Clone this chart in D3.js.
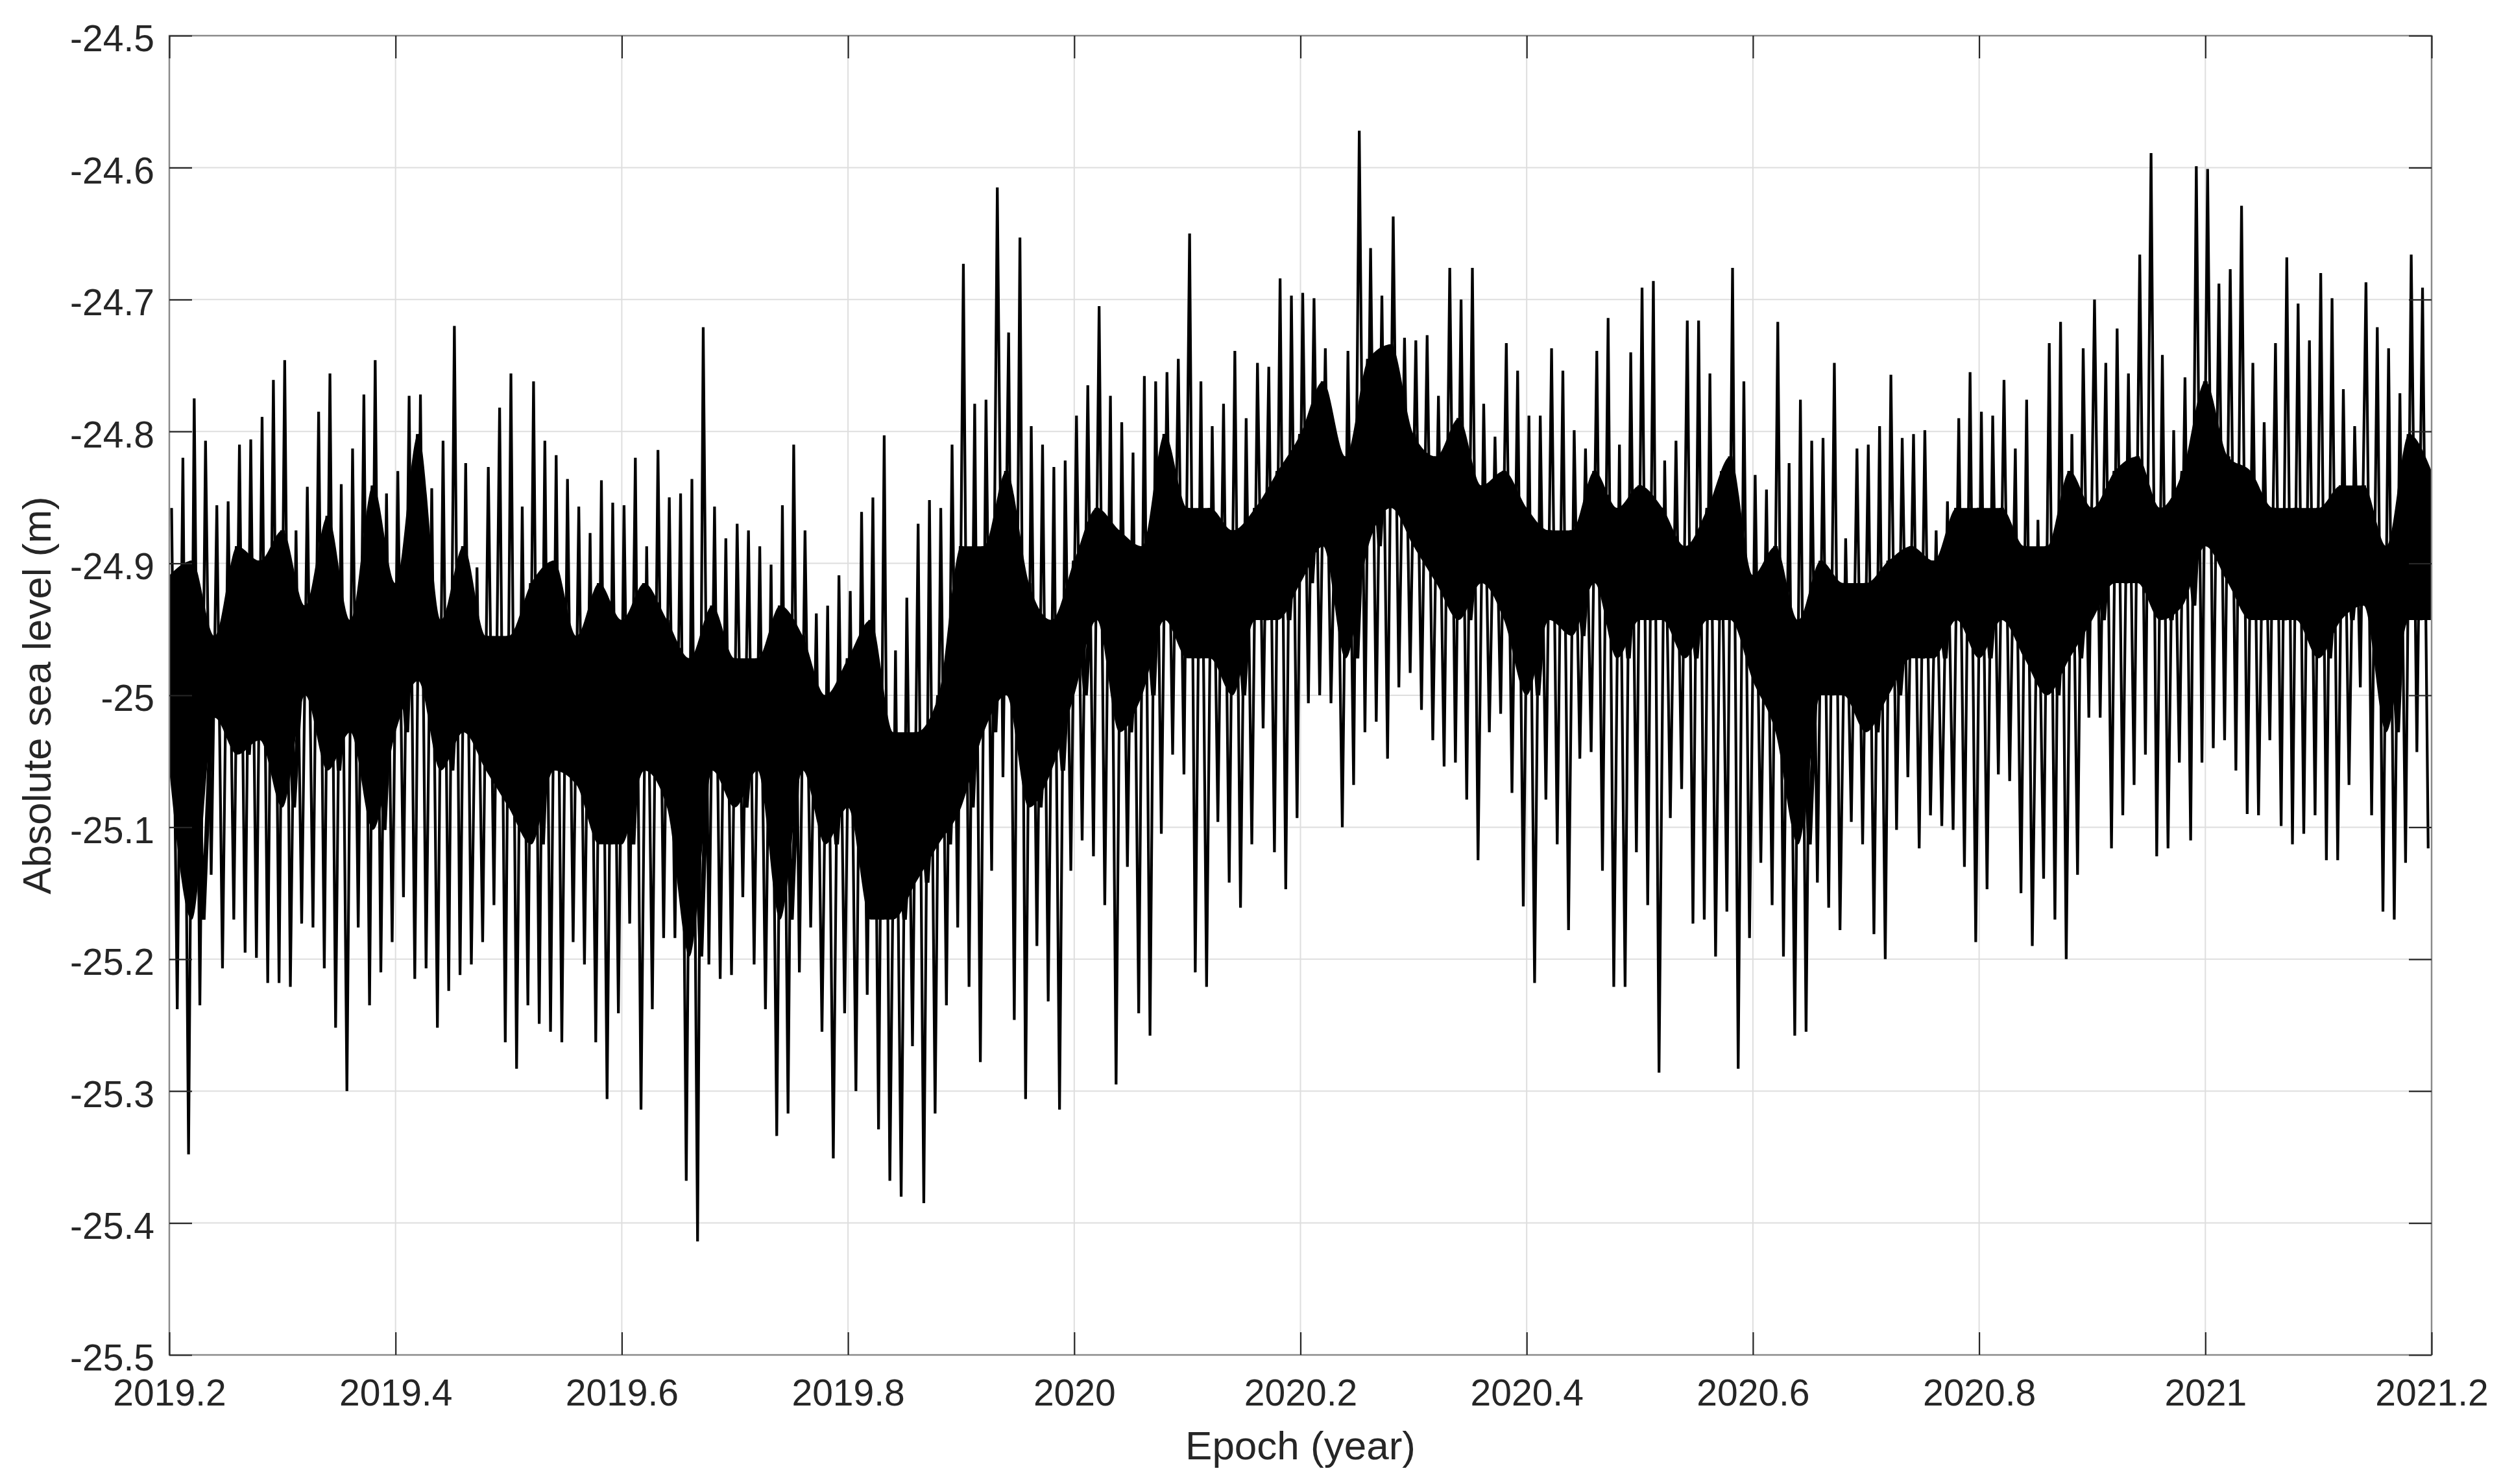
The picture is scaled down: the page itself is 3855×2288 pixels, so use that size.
<!DOCTYPE html>
<html>
<head>
<meta charset="utf-8">
<script src="https://cdn.jsdelivr.net/npm/d3@7"></script>
<style>
html,body{margin:0;padding:0;background:#ffffff;}
svg{display:block;}
</style>
</head>
<body>
<script>
// ---------------- DATA ----------------
// Sea-level record summarised per 0.01-year window: highest and lowest value.
const firstEpoch = 2019.20;
const epochStep = 0.01;
const seaLevelHigh = [
 -24.858,-24.820,-24.775,-24.807,-24.856,-24.853,-24.810,-24.806,-24.789,-24.761,
 -24.746,-24.875,-24.842,-24.785,-24.756,-24.840,-24.813,-24.772,-24.746,-24.847,
 -24.830,-24.773,-24.772,-24.843,-24.807,-24.720,-24.824,-24.903,-24.827,-24.782,
 -24.756,-24.857,-24.762,-24.807,-24.818,-24.836,-24.857,-24.877,-24.837,-24.854,
 -24.856,-24.820,-24.887,-24.814,-24.850,-24.847,-24.836,-24.721,-24.857,-24.881,
 -24.870,-24.875,-24.887,-24.901,-24.856,-24.810,-24.875,-24.938,-24.932,-24.909,
 -24.921,-24.861,-24.850,-24.803,-24.966,-24.926,-24.870,-24.852,-24.858,-24.810,
 -24.673,-24.779,-24.776,-24.615,-24.725,-24.653,-24.796,-24.810,-24.827,-24.822,
 -24.788,-24.765,-24.705,-24.773,-24.793,-24.816,-24.758,-24.762,-24.755,-24.745,
 -24.650,-24.762,-24.796,-24.779,-24.739,-24.790,-24.748,-24.751,-24.684,-24.697,
 -24.695,-24.699,-24.737,-24.805,-24.739,-24.572,-24.661,-24.697,-24.637,-24.729,
 -24.731,-24.727,-24.773,-24.676,-24.700,-24.676,-24.779,-24.804,-24.733,-24.754,
 -24.788,-24.788,-24.737,-24.754,-24.799,-24.813,-24.739,-24.714,-24.810,-24.740,
 -24.691,-24.686,-24.822,-24.807,-24.716,-24.716,-24.756,-24.830,-24.676,-24.762,
 -24.833,-24.844,-24.717,-24.824,-24.776,-24.807,-24.805,-24.748,-24.881,-24.813,
 -24.810,-24.796,-24.757,-24.805,-24.802,-24.799,-24.875,-24.853,-24.790,-24.755,
 -24.785,-24.788,-24.761,-24.813,-24.776,-24.867,-24.733,-24.717,-24.802,-24.737,
 -24.700,-24.748,-24.722,-24.756,-24.666,-24.589,-24.742,-24.799,-24.759,-24.599,
 -24.601,-24.688,-24.677,-24.629,-24.748,-24.793,-24.733,-24.668,-24.703,-24.731,
 -24.680,-24.699,-24.768,-24.796,-24.687,-24.721,-24.737,-24.771,-24.666,-24.691
];
const seaLevelLow = [
 -25.238,-25.348,-25.235,-25.136,-25.207,-25.170,-25.195,-25.199,-25.218,-25.218,
 -25.221,-25.173,-25.176,-25.207,-25.252,-25.300,-25.176,-25.235,-25.210,-25.187,
 -25.153,-25.215,-25.207,-25.252,-25.224,-25.212,-25.204,-25.187,-25.159,-25.263,
 -25.283,-25.235,-25.249,-25.255,-25.263,-25.187,-25.204,-25.263,-25.306,-25.241,
 -25.173,-25.314,-25.238,-25.184,-25.184,-25.368,-25.414,-25.204,-25.215,-25.212,
 -25.153,-25.204,-25.238,-25.334,-25.317,-25.210,-25.176,-25.255,-25.351,-25.241,
 -25.300,-25.227,-25.329,-25.368,-25.380,-25.266,-25.385,-25.317,-25.235,-25.176,
 -25.221,-25.278,-25.133,-25.062,-25.246,-25.306,-25.190,-25.232,-25.314,-25.133,
 -25.110,-25.122,-25.159,-25.295,-25.130,-25.241,-25.258,-25.105,-25.045,-25.060,
 -25.210,-25.221,-25.096,-25.142,-25.161,-25.113,-25.025,-25.119,-25.147,-25.093,
 -25.006,-25.000,-25.006,-25.100,-25.068,-25.028,-25.020,-25.048,-24.994,-24.983,
 -25.011,-25.034,-25.054,-25.051,-25.079,-25.125,-25.028,-25.014,-25.074,-25.160,
 -25.218,-25.079,-25.113,-25.178,-25.048,-25.043,-25.133,-25.221,-25.221,-25.119,
 -25.159,-25.286,-25.093,-25.071,-25.173,-25.170,-25.198,-25.164,-25.283,-25.184,
 -25.127,-25.159,-25.198,-25.258,-25.255,-25.142,-25.161,-25.178,-25.096,-25.113,
 -25.181,-25.200,-25.102,-25.062,-25.116,-25.091,-25.099,-25.102,-25.130,-25.187,
 -25.147,-25.060,-25.065,-25.150,-25.190,-25.139,-25.170,-25.200,-25.136,-25.017,
 -25.017,-25.116,-25.091,-25.068,-25.045,-25.122,-25.116,-25.051,-25.110,-25.051,
 -25.040,-25.034,-25.057,-25.090,-25.091,-25.034,-25.099,-25.113,-25.105,-25.091,
 -25.125,-25.125,-25.068,-24.994,-25.091,-25.164,-25.170,-25.127,-25.043,-25.116
];
// Dense (solid black) band of the record, read every 0.02 year.
const coreStart = 2019.20;
const coreStep = 0.02;
const denseUpper = [
 -24.909,-24.898,-24.955,-24.887,-24.898,-24.875,-24.932,-24.864,-24.943,-24.841,
 -24.915,-24.802,-24.943,-24.887,-24.955,-24.955,-24.915,-24.898,-24.955,-24.915,
 -24.943,-24.915,-24.943,-24.972,-24.932,-24.972,-24.972,-24.932,-24.955,-25.000,
 -24.972,-24.943,-25.028,-25.028,-25.000,-24.887,-24.887,-24.830,-24.915,-24.943,
 -24.898,-24.858,-24.875,-24.887,-24.802,-24.858,-24.858,-24.875,-24.858,-24.830,
 -24.802,-24.762,-24.819,-24.745,-24.734,-24.802,-24.819,-24.790,-24.841,-24.830,
 -24.858,-24.875,-24.875,-24.830,-24.858,-24.841,-24.858,-24.887,-24.858,-24.819,
 -24.909,-24.887,-24.943,-24.898,-24.915,-24.915,-24.898,-24.887,-24.898,-24.858,
 -24.858,-24.858,-24.887,-24.887,-24.830,-24.858,-24.830,-24.819,-24.858,-24.830,
 -24.762,-24.819,-24.830,-24.858,-24.858,-24.858,-24.841,-24.841,-24.887,-24.802,
 -24.830
];
const denseLower = [
 -25.057,-25.170,-25.017,-25.045,-25.034,-25.085,-25.000,-25.057,-25.028,-25.102,
 -25.028,-24.989,-25.057,-25.028,-25.057,-25.085,-25.113,-25.057,-25.068,-25.113,
 -25.113,-25.057,-25.085,-25.198,-25.057,-25.085,-25.057,-25.170,-25.057,-25.113,
 -25.085,-25.170,-25.170,-25.142,-25.113,-25.085,-25.028,-25.000,-25.085,-25.057,
 -25.000,-24.943,-25.028,-25.000,-24.943,-24.972,-24.972,-25.000,-24.943,-24.943,
 -24.915,-24.887,-24.972,-24.887,-24.858,-24.887,-24.915,-24.943,-24.915,-24.943,
 -25.000,-24.943,-24.955,-24.915,-24.972,-24.943,-24.943,-24.972,-24.943,-24.943,
 -24.989,-25.028,-25.113,-25.000,-25.000,-25.028,-25.000,-24.972,-24.972,-24.943,
 -24.972,-24.943,-24.972,-25.000,-24.972,-24.943,-24.915,-24.915,-24.943,-24.932,
 -24.887,-24.915,-24.943,-24.943,-24.943,-24.972,-24.943,-24.932,-25.028,-24.943,
 -24.943
];
const xTickValues = [2019.2,2019.4,2019.6,2019.8,2020.0,2020.2,2020.4,2020.6,2020.8,2021.0,2021.2];
const xTickLabels = ["2019.2","2019.4","2019.6","2019.8","2020","2020.2","2020.4","2020.6","2020.8","2021","2021.2"];
const yTickValues = [-24.5,-24.6,-24.7,-24.8,-24.9,-25.0,-25.1,-25.2,-25.3,-25.4,-25.5];
const yTickLabels = ["-24.5","-24.6","-24.7","-24.8","-24.9","-25","-25.1","-25.2","-25.3","-25.4","-25.5"];
const xTitle = "Epoch (year)";
const yTitle = "Absolute sea level (m)";

// ---------------- LAYOUT ----------------
const W = 3855, H = 2288;
const P = {left: 261, right: 3748, top: 55, bottom: 2089};
const FONT = "'Liberation Sans', Arial, Helvetica, sans-serif";
const INK = "#262626";

const x = d3.scaleLinear().domain([2019.2, 2021.2]).range([P.left, P.right]);
const y = d3.scaleLinear().domain([-25.5, -24.5]).range([P.bottom, P.top]);

const svg = d3.select("body").append("svg")
  .attr("width", W).attr("height", H)
  .attr("viewBox", `0 0 ${W} ${H}`);
svg.append("rect").attr("width", W).attr("height", H).attr("fill", "#ffffff");

// grid
const grid = svg.append("g").attr("stroke", "#dedede").attr("stroke-width", 2);
grid.selectAll("line.gx").data(xTickValues.slice(1, -1)).join("line")
  .attr("x1", d => x(d)).attr("x2", d => x(d))
  .attr("y1", P.top).attr("y2", P.bottom);
grid.selectAll("line.gy").data(yTickValues.slice(1, -1)).join("line")
  .attr("y1", d => y(d)).attr("y2", d => y(d))
  .attr("x1", P.left).attr("x2", P.right);

// clip
svg.append("clipPath").attr("id", "plotclip").append("rect")
  .attr("x", P.left).attr("y", P.top)
  .attr("width", P.right - P.left).attr("height", P.bottom - P.top);

const plot = svg.append("g").attr("clip-path", "url(#plotclip)");

// series: alternate window highs and lows
const series = [];
seaLevelHigh.forEach((hv, i) => {
  const e = firstEpoch + i * epochStep;
  series.push({t: e + 0.002, v: hv});
  series.push({t: e + 0.007, v: seaLevelLow[i]});
});
const line = d3.line().x(d => x(d.t)).y(d => y(d.v));
plot.append("path").datum(series)
  .attr("d", line)
  .attr("fill", "none")
  .attr("stroke", "#000000")
  .attr("stroke-width", 4.2)
  .attr("stroke-linejoin", "bevel");

// dense band: solid area plus a zigzag through its limits for a rough edge
const band = denseUpper.map((u, i) => ({t: coreStart + i * coreStep, hi: u, lo: denseLower[i]}));
const area = d3.area().x(d => x(d.t)).y0(d => y(d.lo)).y1(d => y(d.hi))
  .curve(d3.curveMonotoneX);
plot.append("path").datum(band)
  .attr("d", area)
  .attr("fill", "#000000")
  .attr("transform", "translate(0,0)");

const bandZig = [];
band.forEach(d => {
  bandZig.push({t: d.t, v: d.hi});
  bandZig.push({t: d.t + coreStep / 2, v: d.lo});
});
plot.append("path").datum(bandZig)
  .attr("d", line)
  .attr("fill", "none")
  .attr("stroke", "#000000")
  .attr("stroke-width", 7)
  .attr("stroke-linejoin", "bevel");

// box
svg.append("rect")
  .attr("x", P.left).attr("y", P.top)
  .attr("width", P.right - P.left).attr("height", P.bottom - P.top)
  .attr("fill", "none").attr("stroke", "#8a8a8a").attr("stroke-width", 2.5);

// axes
const TICK = 35;
const fmtX = (d) => xTickLabels[xTickValues.indexOf(d)];
const fmtY = (d) => yTickLabels[yTickValues.indexOf(d)];

const gx = svg.append("g").attr("transform", `translate(0,${P.bottom})`)
  .call(d3.axisBottom(x).tickValues(xTickValues).tickFormat(fmtX)
    .tickSizeInner(-TICK).tickSizeOuter(0).tickPadding(38));
const gxt = svg.append("g").attr("transform", `translate(0,${P.top})`)
  .call(d3.axisTop(x).tickValues(xTickValues).tickFormat(() => "")
    .tickSizeInner(-TICK).tickSizeOuter(0));
const gy = svg.append("g").attr("transform", `translate(${P.left},0)`)
  .call(d3.axisLeft(y).tickValues(yTickValues).tickFormat(fmtY)
    .tickSizeInner(-TICK).tickSizeOuter(0).tickPadding(23));
const gyr = svg.append("g").attr("transform", `translate(${P.right},0)`)
  .call(d3.axisRight(y).tickValues(yTickValues).tickFormat(() => "")
    .tickSizeInner(-TICK).tickSizeOuter(0));

[gx, gxt, gy, gyr].forEach(g => {
  g.select(".domain").remove();
  g.selectAll(".tick line").attr("stroke", INK).attr("stroke-width", 2.2);
  g.selectAll(".tick text").attr("fill", INK)
    .style("font-family", FONT).style("font-size", "57px");
});
gy.selectAll(".tick text").attr("dy", "0.42em");

// titles
svg.append("text")
  .attr("x", (P.left + P.right) / 2).attr("y", 2250)
  .attr("text-anchor", "middle")
  .style("font-family", FONT).style("font-size", "62px")
  .attr("fill", INK).text(xTitle);
svg.append("text")
  .attr("transform", `translate(78,${(P.top + P.bottom) / 2}) rotate(-90)`)
  .attr("text-anchor", "middle")
  .style("font-family", FONT).style("font-size", "62px")
  .attr("fill", INK).text(yTitle);
</script>
</body>
</html>
